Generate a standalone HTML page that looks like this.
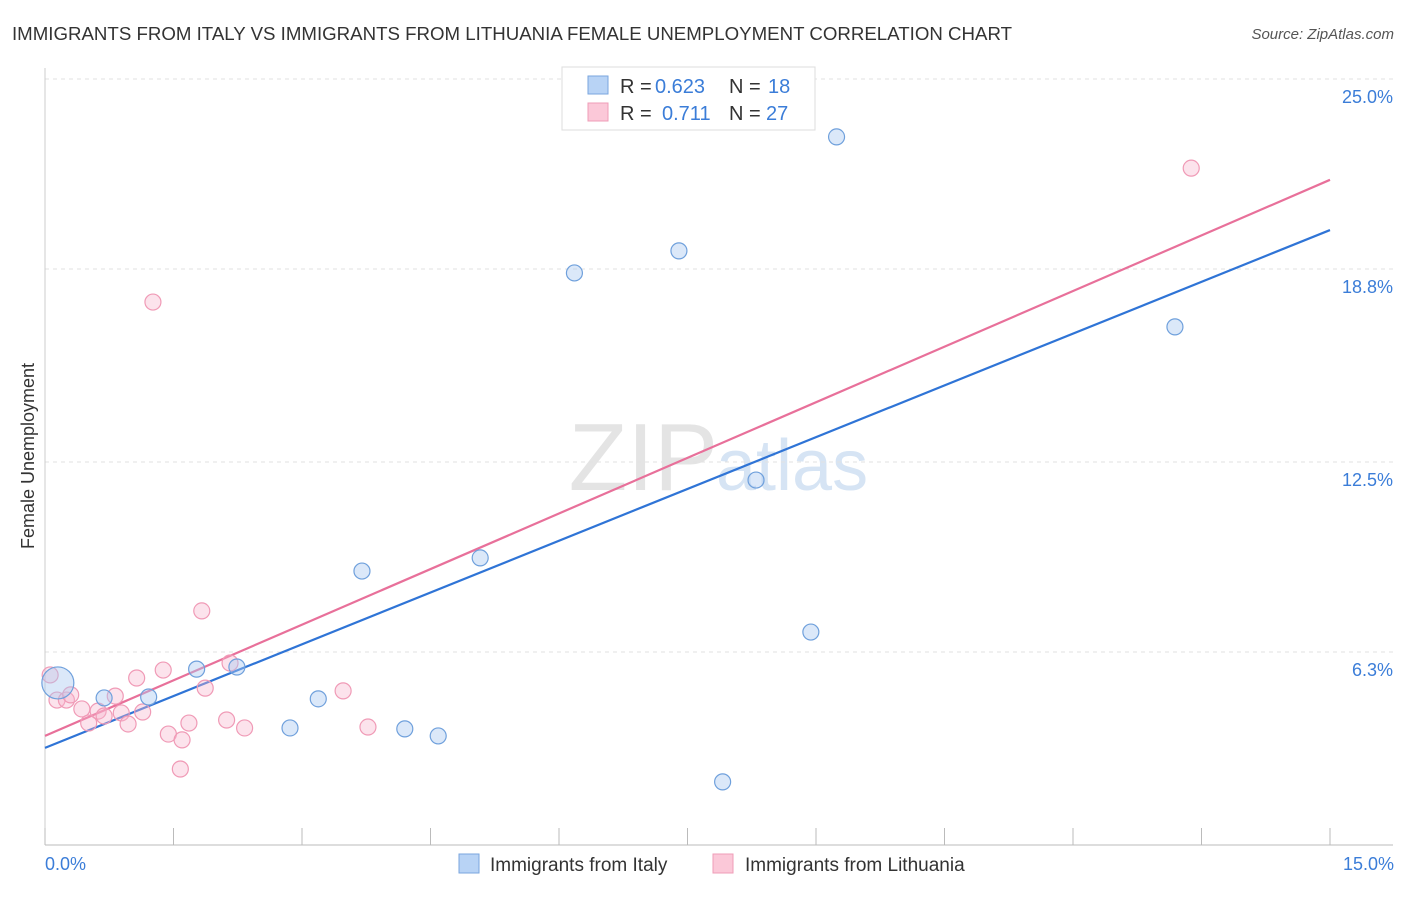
<!DOCTYPE html>
<html><head><meta charset="utf-8"><style>
body{margin:0;background:#fff;font-family:"Liberation Sans",sans-serif;}
svg text{font-family:"Liberation Sans",sans-serif;}
</style></head><body>
<svg id="chart" width="1406" height="892">
<text x="12" y="40" font-size="18.5" fill="#333" textLength="1000" lengthAdjust="spacingAndGlyphs">IMMIGRANTS FROM ITALY VS IMMIGRANTS FROM LITHUANIA FEMALE UNEMPLOYMENT CORRELATION CHART</text>
<text x="1394" y="39" font-size="15" fill="#555" font-style="italic" text-anchor="end">Source: ZipAtlas.com</text>
<text x="718" y="490" font-size="96" fill="#e4e4e4" text-anchor="end" font-family="Liberation Serif">ZIP</text>
<text x="716" y="490" font-size="72" fill="#d6e4f4">atlas</text>
<g id="grid"></g>
<g id="axes"></g>
<g id="lines"></g>
<g id="points"></g>
<text x="34" y="456" font-size="18" fill="#333" text-anchor="middle" transform="rotate(-90 34 456)">Female Unemployment</text>
<text x="45" y="870" font-size="18" fill="#3b7dd8">0.0%</text>
<text x="1394" y="870" font-size="18" fill="#3b7dd8" text-anchor="end">15.0%</text>
<g>
<rect x="562" y="67" width="253" height="63" fill="#fff" stroke="#ddd"/>
<rect x="588" y="76" width="20" height="18" fill="#b8d3f5" stroke="#7aa6de"/>
<rect x="588" y="103" width="20" height="18" fill="#fbc8d8" stroke="#ef9db7"/>
<text x="620" y="93" font-size="20" fill="#333">R =</text>
<text x="655" y="93" font-size="20" fill="#3b7dd8">0.623</text>
<text x="729" y="93" font-size="20" fill="#333">N =</text>
<text x="768" y="93" font-size="20" fill="#3b7dd8">18</text>
<text x="620" y="120" font-size="20" fill="#333">R =</text>
<text x="662" y="120" font-size="20" fill="#3b7dd8">0.711</text>
<text x="729" y="120" font-size="20" fill="#333">N =</text>
<text x="766" y="120" font-size="20" fill="#3b7dd8">27</text>
</g>
<g>
<rect x="459" y="854" width="20" height="19" fill="#b8d3f5" stroke="#7aa6de"/>
<text x="490" y="871" font-size="19" fill="#333">Immigrants from Italy</text>
<rect x="713" y="854" width="20" height="19" fill="#fbc8d8" stroke="#ef9db7"/>
<text x="745" y="871" font-size="19" fill="#333">Immigrants from Lithuania</text>
</g>
</svg>
<script>
const yTicks=[25.0,18.8,12.5,6.3];
const yTickLabels=["25.0%","18.8%","12.5%","6.3%"];
const xTicks=[0,1.5,3,4.5,6,7.5,9,10.5,12,13.5,15];
const italyX=[0.15,0.69,1.21,1.77,2.24,2.86,3.19,3.70,4.20,4.59,5.08,6.18,7.40,7.91,8.30,8.94,9.24,13.19];
const italyY=[5.29,4.80,4.83,5.74,5.81,3.82,4.77,8.94,3.79,3.56,9.37,18.67,19.39,2.06,11.91,6.95,23.11,16.91];
const italySize=[16,8,8,8,8,8,8,8,8,8,8,8,8,8,8,8,8,8];
const lithX=[0.06,0.14,0.25,0.30,0.43,0.51,0.62,0.69,0.82,0.89,0.97,1.07,1.14,1.26,1.38,1.44,1.58,1.60,1.68,1.83,1.87,2.12,2.16,2.33,3.48,3.77,13.38];
const lithY=[5.55,4.73,4.73,4.90,4.44,3.98,4.37,4.21,4.86,4.31,3.95,5.45,4.34,17.72,5.71,3.62,2.48,3.43,3.98,7.64,5.12,4.08,5.94,3.82,5.03,3.85,22.09];
const italyTrend=[3.17,20.07];
const lithTrend=[3.56,21.71];
const X=v=>45+v/15*1285;
const Y=v=>845-v/25*766;
const NS="http://www.w3.org/2000/svg";
function mk(tag,attrs,parent){const e=document.createElementNS(NS,tag);for(const k in attrs)e.setAttribute(k,attrs[k]);document.getElementById(parent).appendChild(e);return e;}
yTicks.forEach((t,i)=>{
 const l=mk('line',{x1:45,x2:1393,y1:Y(t),y2:Y(t),stroke:'#e2e2e2','stroke-dasharray':'4,4'},'grid');
 
 
 const tx=mk('text',{x:1393,y:Y(t)+24,'font-size':18,fill:'#3b7dd8','text-anchor':'end'},'grid');
 tx.textContent=yTickLabels[i];
 
 
});
let ax=mk('line',{x1:45,x2:1393,y1:845,y2:845,stroke:'#bbb'},'axes');


let ay=mk('line',{x1:45,x2:45,y1:68,y2:845,stroke:'#ccc'},'axes');


xTicks.forEach(t=>{
 const l=mk('line',{x1:X(t),x2:X(t),y1:828,y2:845,stroke:'#bbb'},'axes');
 
 
});
let bl=mk('line',{x1:X(0),y1:Y(italyTrend[0]),x2:X(15),y2:Y(italyTrend[1]),stroke:'#2f74d6','stroke-width':2.2},'lines');


let pl=mk('line',{x1:X(0),y1:Y(lithTrend[0]),x2:X(15),y2:Y(lithTrend[1]),stroke:'#e8709a','stroke-width':2.2},'lines');


lithX.forEach((v,i)=>{
 const c=mk('circle',{cx:X(v),cy:Y(lithY[i]),r:8,fill:'rgba(248,182,204,0.38)',stroke:'#f09ab6','stroke-width':1.2},'points');
 
 
});
italyX.forEach((v,i)=>{
 const c=mk('circle',{cx:X(v),cy:Y(italyY[i]),r:italySize[i],fill:'rgba(170,200,240,0.42)',stroke:'#6fa0dc','stroke-width':1.2},'points');
 
 
});
</script>
</body></html>
